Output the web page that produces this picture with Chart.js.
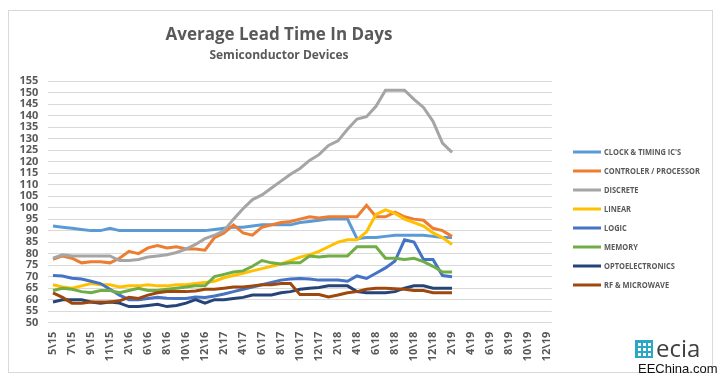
<!DOCTYPE html>
<html>
<head>
<meta charset="utf-8">
<script src="https://cdn.jsdelivr.net/npm/chart.js@4/dist/chart.umd.min.js"></script>
<style>
  html, body { margin: 0; padding: 0; background: #ffffff; }
  #wrap { width: 721px; height: 380px; }
</style>
</head>
<body>
<div id="wrap"><canvas id="c" width="721" height="380"></canvas></div>
<script>
// ---- Data ----
const categories = ['5\\15','6\\15','7\\15','8\\15','9\\15','10\\15','11\\15','12\\15','2\\16','4\\16',
  '6\\16','7\\16','8\\16','9\\16','10\\16','11\\16','12\\16','1\\17','2\\17','3\\17',
  '4\\17','5\\17','6\\17','7\\17','8\\17','9\\17','10\\17','11\\17','12\\17','1\\18',
  '2\\18','3\\18','4\\18','5\\18','6\\18','7\\18','8\\18','9\\18','10\\18','11\\18',
  '12\\18','1\\19','2\\19','3\\19','4\\19','5\\19','6\\19','7\\19','8\\19','9\\19',
  '10\\19','11\\19','12\\19'];

const seriesNames = ["CLOCK & TIMING IC'S", 'CONTROLER / PROCESSOR', 'DISCRETE', 'LINEAR',
  'LOGIC', 'MEMORY', 'OPTOELECTRONICS', 'RF & MICROWAVE'];

const clockTiming = [92, 91.5, 91, 90.5, 90, 90, 91, 90, 90, 90,
  90, 90, 90, 90, 90, 90, 90, 90.5, 91, 91.5,
  91.5, 92, 92.5, 92.5, 92.5, 92.5, 93.5, 94, 94.5, 95,
  95, 95, 86.5, 87, 87, 87.5, 88, 88, 88, 88,
  87.5, 87, 87];
const controller = [77.5, 79, 78, 76, 76.5, 76.5, 76, 78, 81, 80,
  82.5, 83.5, 82.5, 83, 82, 82, 81.5, 87, 89, 92.5,
  89, 88, 91.5, 92.5, 93.5, 94, 95, 96, 95.5, 96,
  96, 96, 96, 101, 96, 96, 98, 96, 95, 94.5,
  91, 90, 87.5];
const discrete = [78, 79.5, 79, 79, 79, 79, 79, 77, 77, 77.5,
  78.5, 79, 79.5, 80.5, 82, 84, 86.5, 88, 90, 95,
  99.5, 103.5, 105.5, 108.5, 111.5, 114.5, 117, 120.5, 123, 127,
  129, 134, 138.5, 139.5, 144, 151, 151, 151, 147, 143.5,
  137.5, 128, 124];
const linear = [66.5, 65.5, 65, 66, 67, 66.5, 66.5, 65.5, 66, 66,
  66.5, 66, 66, 66.5, 66.5, 67, 67.5, 68, 69.5, 70.5,
  71.5, 72.5, 73.5, 74.5, 75.5, 77, 78.5, 79.5, 81, 83,
  85, 86, 86, 89.5, 97, 99, 97.5, 95, 93.5, 92,
  89, 87, 84];
const logic = [70.5, 70.3, 69.3, 69, 68, 67, 64.5, 62, 60, 60,
  60.5, 61, 60.6, 60.5, 60.5, 61.2, 61, 61.6, 62.5, 63.5,
  64.5, 65.5, 66.5, 67.5, 68.5, 69, 69.2, 69, 68.5, 68.5,
  68.5, 68, 70.3, 69.2, 71.5, 73.8, 76.8, 86, 85, 77.5,
  77.5, 70.5, 70];
const memory = [64, 65, 64.5, 63.5, 63, 64, 64, 63, 64, 65,
  64, 64, 64.5, 65, 65.5, 66, 66, 70, 71, 72,
  72.5, 74.5, 77, 76, 75.5, 76, 76, 79, 78.5, 79,
  79, 79, 83, 83, 83, 78, 78, 77.5, 78, 76.5,
  74.5, 72, 72];
const opto = [59, 60, 60, 60, 59, 58.5, 59, 58.5, 57, 57,
  57.5, 58, 57, 57.5, 58.5, 60, 58.5, 60, 60, 60.5,
  61, 62, 62, 62, 63, 63.5, 64.5, 65, 65.3, 66,
  66, 66, 63.5, 63, 63, 63, 63.5, 65, 66, 66,
  65, 65, 65];
const rfMicrowave = [63, 61, 58.5, 58.5, 59, 59, 59, 59.5, 61, 60.5,
  62, 63, 63.5, 63.5, 63.5, 63.8, 64.5, 64.5, 65, 65.5,
  65.5, 66, 66.5, 66.5, 67, 67, 62.2, 62.2, 62.2, 61.2,
  62, 63, 63.5, 64.5, 65, 65, 64.8, 64.5, 64, 64,
  63, 63, 63];

const yMin = 50, yMax = 155, yStep = 5;

const seriesValues = [clockTiming, controller, discrete, linear, logic, memory, opto, rfMicrowave];
const seriesColors = ['#5B9BD5', '#ED7D31', '#A5A5A5', '#FFC000', '#4472C4', '#70AD47', '#264478', '#9E480E'];

const TEXT = '#595959';

const datasets = seriesValues.map((vals, i) => ({
  label: seriesNames[i],
  data: vals,
  borderColor: seriesColors[i],
  backgroundColor: seriesColors[i],
  borderWidth: 3,
  pointRadius: 0,
  tension: 0,
  fill: false,
  order: seriesValues.length - i
}));

const decor = {
  id: 'decor',
  beforeDraw(chart) {
    const ctx = chart.ctx;
    ctx.save();
    ctx.fillStyle = '#ffffff';
    ctx.fillRect(0, 0, chart.width, chart.height);
    ctx.strokeStyle = '#d9d9d9';
    ctx.lineWidth = 1;
    ctx.strokeRect(8.5, 10.5, 704, 362);
    ctx.restore();
  },
  afterDraw(chart) {
    const ctx = chart.ctx;
    ctx.save();
    // titles
    ctx.fillStyle = TEXT;
    ctx.textAlign = 'center';
    ctx.textBaseline = 'alphabetic';
    ctx.font = 'bold 17px "Open Sans"';
    ctx.fillText('Average Lead Time In Days', 279, 40);
    ctx.font = 'bold 12px "Open Sans"';
    ctx.fillText('Semiconductor Devices', 279, 59);
    // legend
    ctx.textAlign = 'left';
    ctx.textBaseline = 'middle';
    ctx.font = 'bold 9px "Open Sans"';
    chart.data.datasets.forEach((ds, i) => {
      const y = 152 + i * 19;
      ctx.strokeStyle = ds.borderColor;
      ctx.lineWidth = 3;
      ctx.beginPath();
      ctx.moveTo(573, y);
      ctx.lineTo(601, y);
      ctx.stroke();
      ctx.fillStyle = TEXT;
      ctx.save();
      ctx.translate(604, y + 0.5);
      ctx.scale(0.83, 1);
      ctx.fillText(ds.label, 0, 0);
      ctx.restore();
    });
    // logo
    ctx.fillStyle = '#2aa6c6';
    ctx.fillRect(635, 340, 18, 18);
    ctx.fillStyle = '#ffffff';
    for (let r = 0; r < 3; r++) for (let c = 0; c < 3; c++) ctx.fillRect(638 + c * 5, 343 + r * 5, 3, 3);
    ctx.fillStyle = '#404040';
    ctx.textBaseline = 'alphabetic';
    ctx.font = '24px "Open Sans"';
    ctx.fillText('ecia', 656, 357);
    ctx.fillStyle = '#111111';
    ctx.font = '13px "Liberation Sans"';
    ctx.fillText('EEChina.com', 638, 373);
    ctx.restore();
  }
};

new Chart(document.getElementById('c'), {
  type: 'line',
  data: { labels: categories, datasets: datasets },
  options: {
    responsive: false,
    animation: false,
    devicePixelRatio: 1,
    layout: { padding: { left: 0, right: 169.25, top: 81, bottom: 0 } },
    plugins: { legend: { display: false }, title: { display: false }, tooltip: { enabled: false } },
    scales: {
      x: {
        offset: true,
        grid: { display: false, drawTicks: false },
        border: { display: false },
        ticks: {
          autoSkip: false,
          maxRotation: 90,
          minRotation: 90,
          padding: 9,
          color: TEXT,
          font: { family: 'Open Sans', size: 11, weight: 'bold' },
          callback: function (v, idx) { return idx % 2 === 0 ? categories[idx] : ''; }
        },
        afterFit(scale) { scale.height = 380 - 322.7; }
      },
      y: {
        min: yMin,
        max: yMax,
        grid: { color: '#d9d9d9', lineWidth: 1, drawTicks: false },
        border: { display: false },
        ticks: {
          stepSize: yStep,
          autoSkip: false,
          padding: 10,
          color: TEXT,
          font: { family: 'Open Sans', size: 11, weight: 'bold' }
        },
        afterFit(scale) { scale.width = 48.25; }
      }
    }
  },
  plugins: [decor]
});
</script>
</body>
</html>
